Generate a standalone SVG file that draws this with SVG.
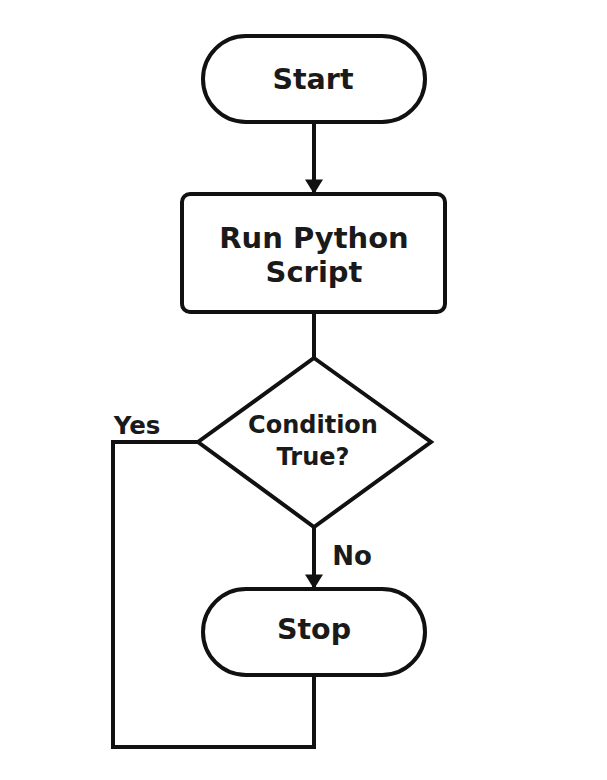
<svg xmlns="http://www.w3.org/2000/svg" width="607" height="780" viewBox="0 0 607 780">
<defs>
<style>
.shape{fill:#fff;stroke:#111;stroke-width:4}
.conn{fill:none;stroke:#111;stroke-width:4}
text{font-family:"DejaVu Sans","Liberation Sans",sans-serif;font-weight:bold;fill:#1a1a1a;text-anchor:middle}
</style>
<marker id="arr" viewBox="0 0 8 10" refX="7.5" refY="5" markerWidth="3.8" markerHeight="4.5" orient="auto" markerUnits="strokeWidth">
<path d="M0,0 L8,5 L0,10 z" fill="#111"/>
</marker>
</defs>
<rect width="607" height="780" fill="#fff"/>
<g id="connectors">
<line class="conn" x1="314" y1="122" x2="314" y2="193" marker-end="url(#arr)"/>
<line class="conn" x1="314" y1="312" x2="314" y2="358"/>
<line class="conn" x1="314" y1="527" x2="314" y2="588" marker-end="url(#arr)"/>
<polyline class="conn" points="314,675 314,747 113,747 113,442 198,442"/>
<text x="137" y="434" font-size="24.5">Yes</text>
<text x="352" y="565" font-size="26">No</text>
</g>
<g id="start">
<rect class="shape" x="203" y="36" width="222" height="86" rx="43"/>
<text x="313" y="89" font-size="28.5">Start</text>
</g>
<g id="run">
<rect class="shape" x="182" y="194" width="263" height="118" rx="8"/>
<text x="314" y="248" font-size="29">Run Python</text>
<text x="314" y="282" font-size="29">Script</text>
</g>
<g id="condition">
<polygon class="shape" points="314,358 431,442 314,527 198,442"/>
<text x="313" y="433" font-size="24">Condition</text>
<text x="313" y="465" font-size="24">True?</text>
</g>
<g id="stop">
<rect class="shape" x="203" y="589" width="222" height="86" rx="43"/>
<text x="314" y="639" font-size="28.5">Stop</text>
</g>
</svg>
